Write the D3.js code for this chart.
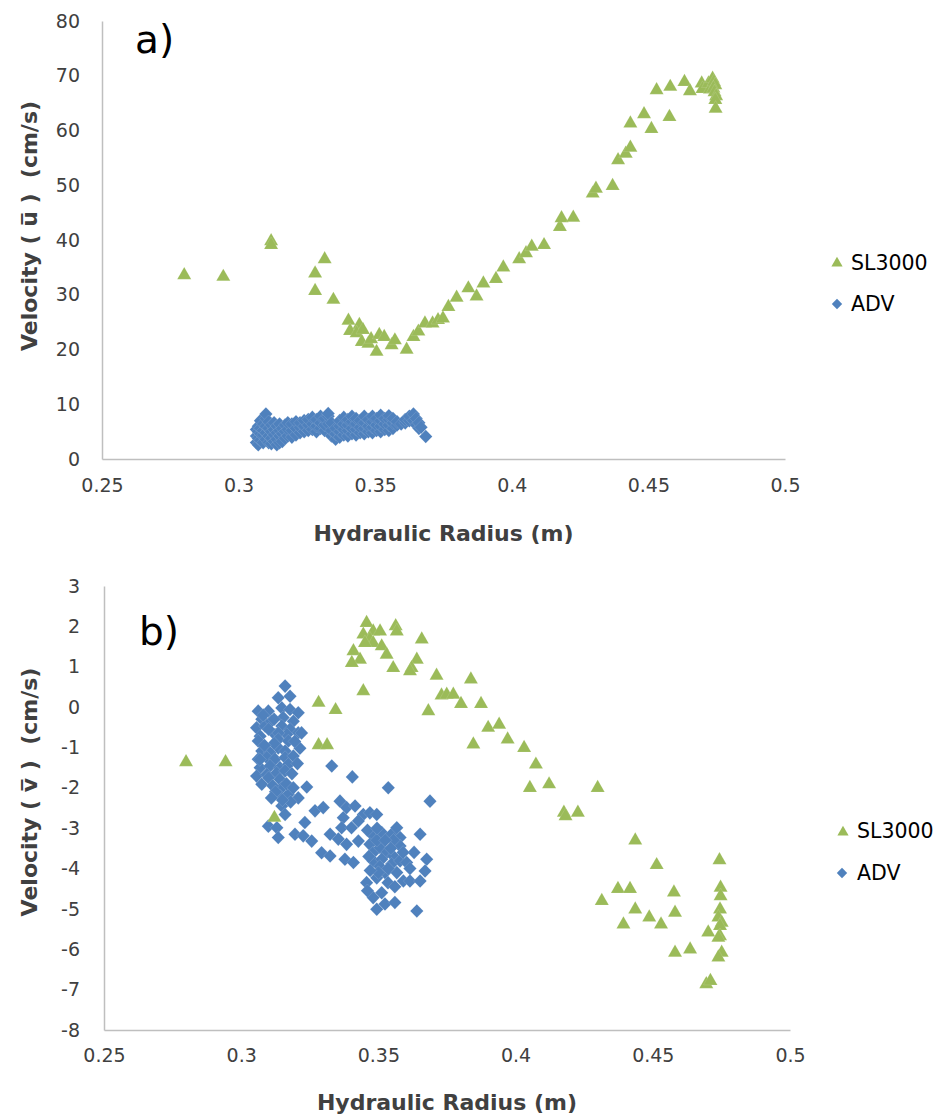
<!DOCTYPE html>
<html>
<head>
<meta charset="utf-8">
<script src="https://cdn.jsdelivr.net/npm/d3@7"></script>
<style>
  html, body { margin: 0; padding: 0; background: #ffffff; }
  svg { display: block; }
  text { font-family: "DejaVu Sans", sans-serif; }
</style>
</head>
<body>
<svg id="chart" width="942" height="1120"></svg>
<script>
// ---- Panel a): mean streamwise velocity vs hydraulic radius ----
const slU = [
  [0.2801,33.9],[0.2944,33.6],[0.3119,40.1],[0.3119,39.4],[0.3280,34.2],[0.3315,36.8],
  [0.3280,31.0],[0.3347,29.4],[0.3402,25.6],[0.3442,24.8],[0.3408,23.7],[0.3432,23.3],
  [0.3451,21.7],[0.3455,23.9],[0.3475,21.4],[0.3485,22.2],[0.3505,19.9],[0.3515,23.0],
  [0.3533,22.6],[0.3560,21.1],[0.3572,22.0],[0.3615,20.3],[0.3640,22.6],[0.3658,23.6],
  [0.3682,25.1],[0.3710,25.1],[0.3730,25.7],[0.3748,26.0],[0.3768,28.1],[0.3798,29.8],
  [0.3841,31.5],[0.3871,30.0],[0.3896,32.4],[0.3942,33.2],[0.3969,35.3],[0.4027,36.8],
  [0.4052,37.9],[0.4073,39.1],[0.4118,39.4],[0.4176,42.7],[0.4182,44.3],[0.4225,44.4],
  [0.4296,48.8],[0.4308,49.7],[0.4369,50.2],[0.4389,54.9],[0.4417,56.1],[0.4434,57.2],
  [0.4434,61.6],[0.4484,63.3],[0.4511,60.6],[0.4577,62.8],[0.4530,67.7],[0.4580,68.3],
  [0.4632,69.2],[0.4652,67.5],[0.4695,68.9],[0.4698,67.9],[0.4720,68.9],[0.4725,67.8],
  [0.4735,69.8],[0.4740,69.2],[0.4745,68.6],[0.4738,68.0],[0.4742,67.3],[0.4748,66.6],
  [0.4745,65.9],[0.4746,64.3]
];

const advU = [
  [0.3065,3.0],[0.3065,4.2],[0.3065,5.4],
  [0.3072,2.6],[0.3072,3.8],[0.3072,5.0],[0.3072,6.0],
  [0.3080,3.4],[0.3080,4.6],[0.3080,5.6],[0.3080,7.0],
  [0.3090,3.0],[0.3090,4.4],[0.3090,5.2],[0.3090,6.4],
  [0.3100,3.6],[0.3100,4.8],[0.3100,6.0],[0.3100,7.4],[0.3100,8.2],
  [0.3110,3.0],[0.3110,4.2],[0.3110,5.6],[0.3110,6.8],
  [0.3120,2.8],[0.3120,3.8],[0.3120,5.0],[0.3120,6.2],
  [0.3130,3.2],[0.3130,4.4],[0.3130,5.4],[0.3130,6.6],
  [0.3140,2.6],[0.3140,3.6],[0.3140,4.8],[0.3140,6.0],
  [0.3150,3.0],[0.3150,4.2],[0.3150,5.2],[0.3150,6.4],
  [0.3160,3.2],[0.3160,4.6],[0.3160,5.6],
  [0.3170,3.8],[0.3170,5.0],[0.3170,6.2],
  [0.3180,4.2],[0.3180,5.4],[0.3180,6.6],
  [0.3195,4.0],[0.3195,5.2],[0.3195,6.4],
  [0.3210,4.4],[0.3210,5.6],[0.3210,6.8],
  [0.3225,4.8],[0.3225,5.8],[0.3225,6.6],
  [0.3240,5.0],[0.3240,6.0],[0.3240,7.0],
  [0.3255,5.2],[0.3255,6.2],[0.3255,7.2],
  [0.3270,5.4],[0.3270,6.4],[0.3270,7.6],
  [0.3285,5.0],[0.3285,6.0],[0.3285,7.2],
  [0.3300,5.6],[0.3300,6.6],[0.3300,7.8],
  [0.3315,5.2],[0.3315,6.2],[0.3315,7.4],
  [0.3328,6.4],[0.3328,7.8],[0.3328,8.3],
  [0.3340,4.2],[0.3340,5.2],[0.3340,6.6],
  [0.3355,3.6],[0.3355,4.6],[0.3355,5.6],
  [0.3370,4.0],[0.3370,5.0],[0.3370,6.0],[0.3370,7.0],
  [0.3385,4.4],[0.3385,5.4],[0.3385,6.4],[0.3385,7.6],
  [0.3400,4.2],[0.3400,5.2],[0.3400,6.2],[0.3400,7.2],
  [0.3415,4.6],[0.3415,5.6],[0.3415,6.8],[0.3415,7.8],
  [0.3430,4.4],[0.3430,5.4],[0.3430,6.4],[0.3430,7.4],
  [0.3445,4.8],[0.3445,5.8],[0.3445,7.0],
  [0.3460,4.6],[0.3460,5.6],[0.3460,6.6],[0.3460,7.8],
  [0.3475,5.0],[0.3475,6.0],[0.3475,7.2],
  [0.3490,4.8],[0.3490,5.8],[0.3490,6.8],[0.3490,7.8],
  [0.3505,5.2],[0.3505,6.2],[0.3505,7.4],
  [0.3520,5.0],[0.3520,6.0],[0.3520,7.0],[0.3520,8.0],
  [0.3535,5.4],[0.3535,6.4],[0.3535,7.4],
  [0.3550,5.2],[0.3550,6.2],[0.3550,7.2],[0.3550,7.9],
  [0.3565,5.6],[0.3565,6.6],[0.3565,7.4],
  [0.3580,6.2],[0.3580,6.8],
  [0.3595,6.4],
  [0.3610,6.6],[0.3610,7.2],
  [0.3625,7.0],[0.3625,7.8],
  [0.3640,7.0],[0.3640,8.2],
  [0.3650,6.2],[0.3650,7.4],
  [0.3660,5.6],[0.3660,6.6],
  [0.3668,5.8],
  [0.3685,4.1]
];

// ---- Panel b): mean transverse velocity vs hydraulic radius ----
const slV = [
  [0.2799,-1.32],[0.2943,-1.32],[0.3121,-2.70],[0.3282,0.15],[0.3344,-0.03],[0.3282,-0.90],
  [0.3313,-0.90],[0.3445,0.44],[0.3457,2.13],[0.3481,1.92],[0.3506,1.92],[0.3563,2.05],
  [0.3567,1.92],[0.3658,1.72],[0.3445,1.84],[0.3469,1.72],[0.3481,1.63],[0.3451,1.63],
  [0.3512,1.55],[0.3530,1.34],[0.3409,1.43],[0.3433,1.22],[0.3403,1.14],[0.3554,1.01],
  [0.3640,1.22],[0.3621,1.01],[0.3615,0.93],[0.3712,0.82],[0.3837,0.73],[0.3730,0.33],
  [0.3749,0.35],[0.3773,0.35],[0.3801,0.12],[0.3874,0.12],[0.3682,-0.06],
  [0.3900,-0.47],[0.3940,-0.39],[0.3846,-0.88],[0.3971,-0.76],[0.4031,-0.97],[0.4074,-1.38],
  [0.4052,-1.96],[0.4122,-1.87],[0.4299,-1.96],[0.4176,-2.57],[0.4182,-2.66],[0.4227,-2.57],
  [0.4436,-3.26],[0.4514,-3.87],[0.4743,-3.75],[0.4373,-4.46],[0.4417,-4.46],[0.4314,-4.76],
  [0.4577,-4.55],[0.4747,-4.43],[0.4747,-4.64],[0.4436,-4.97],[0.4487,-5.17],[0.4530,-5.34],
  [0.4581,-5.05],[0.4393,-5.34],[0.4745,-4.97],[0.4739,-5.17],[0.4751,-5.30],[0.4745,-5.38],
  [0.4702,-5.54],[0.4745,-5.63],[0.4739,-5.67],[0.4581,-6.04],[0.4636,-5.96],[0.4751,-6.04],
  [0.4739,-6.16],[0.4695,-6.82],[0.4710,-6.74]
];

const advV = [
  [0.3160,0.52],[0.3135,0.23],[0.3178,0.27],[0.3062,-0.10],[0.3099,-0.10],[0.3148,-0.02],
  [0.3178,-0.06],[0.3208,-0.14],[0.3075,-0.30],[0.3153,-0.26],[0.3190,-0.35],[0.3056,-0.51],
  [0.3087,-0.47],[0.3148,-0.47],[0.3178,-0.55],[0.3208,-0.64],[0.3220,-0.64],[0.3069,-0.72],
  [0.3123,-0.68],[0.3166,-0.68],[0.3135,-0.64],[0.3062,-0.84],[0.3135,-0.80],[0.3172,-0.84],
  [0.3135,-1.01],[0.3160,-1.09],[0.3214,-1.02],[0.3075,-1.09],[0.3105,-1.13],[0.3062,-1.29],
  [0.3093,-1.25],[0.3123,-1.29],[0.3160,-1.25],[0.3190,-1.21],[0.3069,-1.50],[0.3105,-1.46],
  [0.3141,-1.50],[0.3172,-1.42],[0.3056,-1.71],[0.3093,-1.67],[0.3129,-1.63],[0.3160,-1.58],
  [0.3075,-1.91],[0.3141,-1.79],[0.3148,-2.00],[0.3330,-1.46],[0.3405,-1.73],[0.3239,-1.98],
  [0.3536,-2.00],[0.3141,-2.20],[0.3172,-2.16],[0.3208,-2.25],[0.3688,-2.33],[0.3148,-2.45],
  [0.3160,-2.66],[0.3269,-2.57],[0.3299,-2.49],[0.3360,-2.33],[0.3384,-2.49],[0.3415,-2.45],
  [0.3372,-2.74],[0.3445,-2.66],[0.3469,-2.62],[0.3494,-2.66],[0.3099,-2.95],[0.3130,-2.99],
  [0.3135,-3.23],[0.3232,-2.86],[0.3196,-3.15],[0.3226,-3.19],[0.3257,-3.32],[0.3324,-3.15],
  [0.3354,-3.27],[0.3384,-3.40],[0.3427,-3.32],[0.3366,-2.99],[0.3402,-2.99],[0.3427,-2.82],
  [0.3481,-3.19],[0.3512,-3.11],[0.3548,-3.15],[0.3579,-3.23],[0.3567,-2.99],[0.3652,-3.15],
  [0.3293,-3.61],[0.3324,-3.69],[0.3378,-3.77],[0.3409,-3.85],[0.3469,-3.40],[0.3481,-3.61],
  [0.3506,-3.48],[0.3530,-3.61],[0.3554,-3.69],[0.3579,-3.44],[0.3481,-3.81],[0.3512,-3.77],
  [0.3548,-3.89],[0.3579,-3.81],[0.3603,-3.85],[0.3676,-3.77],[0.3670,-4.06],[0.3457,-4.35],
  [0.3494,-4.23],[0.3524,-4.10],[0.3567,-4.10],[0.3591,-4.31],[0.3615,-4.31],[0.3652,-4.31],
  [0.3481,-4.72],[0.3512,-4.60],[0.3524,-4.88],[0.3560,-4.84],[0.3640,-5.05],[0.3494,-5.01],
  [0.3505,-3.95],[0.3536,-4.00],[0.3494,-3.30],[0.3555,-3.30],[0.3615,-4.00],[0.3630,-3.60],
  [0.3080,-0.20],[0.3110,-0.35],[0.3120,-0.90],[0.3085,-0.95],[0.3100,-1.75],[0.3115,-1.95],
  [0.3125,-2.10],[0.3165,-1.90],[0.3180,-2.35],[0.3190,-2.00],[0.3150,-2.30],[0.3120,-0.30],
  [0.3195,-0.85],[0.3185,-1.65],[0.3205,-1.40],[0.3100,-0.55],[0.3068,-1.30],[0.3110,-2.25],
  [0.3460,-3.05],[0.3495,-3.00],[0.3525,-3.30],[0.3545,-3.50],[0.3465,-3.70],[0.3500,-4.10],
  [0.3535,-4.35],[0.3470,-4.05],[0.3560,-4.45],[0.3590,-3.60],[0.3460,-4.55]
];

// ---- Axis ticks ----
const xTicks = [0.25, 0.3, 0.35, 0.4, 0.45, 0.5];
const uTicks = [0, 10, 20, 30, 40, 50, 60, 70, 80];
const vTicks = [-8, -7, -6, -5, -4, -3, -2, -1, 0, 1, 2, 3];

const seriesNames = ["SL3000", "ADV"];
const GREEN = "#9bbb59";
const BLUE = "#4f81bd";
const AXIS_GREY = "#bfbfbf";
const TEXT_GREY = "#404040";

const triPath = "M0,-6.4L7,5.8L-7,5.8Z";
const diaPath = "M0,-6.8L6.6,0L0,6.8L-6.6,0Z";
const triLegend = "M0,-5.2L5.6,4.6L-5.6,4.6Z";
const diaLegend = "M0,-5.2L5.2,0L0,5.2L-5.2,0Z";

const svg = d3.select("#chart");
svg.append("rect").attr("width", 942).attr("height", 1120).attr("fill", "#ffffff");

const panels = [
  {
    tag: "a)", tagX: 135, tagY: 53,
    xRange: [102, 785], yRange: [459, 21], yDomain: [0, 80], yTicks: uTicks,
    sl: slU, adv: advU, yLabelPad: 22, xLabelPad: 20,
    xTitleY: 541, yTitleX: 37, yTitleY: 226, sym: "u",
    legend: { tri: [837, 262], dia: [837, 304], textX: 851, slBase: 270, advBase: 311 }
  },
  {
    tag: "b)", tagX: 139, tagY: 645,
    xRange: [104, 790], yRange: [1030, 586], yDomain: [-8, 3], yTicks: vTicks,
    sl: slV, adv: advV, yLabelPad: 24, xLabelPad: 19,
    xTitleY: 1110, yTitleX: 37, yTitleY: 792, sym: "v",
    legend: { tri: [843, 831], dia: [842, 873], textX: 857, slBase: 838, advBase: 880 }
  }
];

panels.forEach(p => {
  const x = d3.scaleLinear().domain([0.25, 0.5]).range(p.xRange);
  const y = d3.scaleLinear().domain(p.yDomain).range(p.yRange);
  const g = svg.append("g");

  // axes: only the left and bottom rules, no tick marks
  const xAxis = g.append("g")
    .attr("transform", `translate(0,${p.yRange[0]})`)
    .call(d3.axisBottom(x).tickValues(xTicks).tickSize(0).tickPadding(p.xLabelPad)
      .tickFormat(d => String(+d.toFixed(2))));
  const yAxis = g.append("g")
    .attr("transform", `translate(${p.xRange[0]},0)`)
    .call(d3.axisLeft(y).tickValues(p.yTicks).tickSize(0).tickPadding(p.yLabelPad)
      .tickFormat(d => String(d)));
  [xAxis, yAxis].forEach(a => {
    a.select(".domain").attr("stroke", AXIS_GREY).attr("stroke-width", 1.5);
    a.selectAll(".tick text")
      .attr("fill", TEXT_GREY)
      .style("font-family", '"DejaVu Sans", sans-serif')
      .style("font-size", "19px");
  });

  // series markers
  g.append("g").selectAll("path").data(p.adv).join("path")
    .attr("d", diaPath)
    .attr("transform", d => `translate(${x(d[0])},${y(d[1])})`)
    .attr("fill", BLUE)
    .attr("stroke", "#ffffff").attr("stroke-width", 0.4).attr("stroke-opacity", 0.3);
  g.append("g").selectAll("path").data(p.sl).join("path")
    .attr("d", triPath)
    .attr("transform", d => `translate(${x(d[0])},${y(d[1])})`)
    .attr("fill", GREEN)
    .attr("stroke", "#ffffff").attr("stroke-width", 0.4).attr("stroke-opacity", 0.3);

  // panel tag
  g.append("text").attr("x", p.tagX).attr("y", p.tagY)
    .style("font-size", "39px").attr("fill", "#000").text(p.tag);

  // axis titles
  g.append("text")
    .attr("x", (p.xRange[0] + p.xRange[1]) / 2).attr("y", p.xTitleY)
    .attr("text-anchor", "middle")
    .style("font-size", "22px").style("font-weight", "bold")
    .attr("fill", TEXT_GREY)
    .text("Hydraulic Radius (m)");

  g.append("text")
    .attr("transform", `translate(${p.yTitleX},${p.yTitleY}) rotate(-90)`)
    .attr("text-anchor", "middle")
    .style("font-size", "22px").style("font-weight", "bold")
    .style("white-space", "pre")
    .attr("fill", TEXT_GREY)
    .text(`Velocity ( ${p.sym}\u0305 )  (cm/s)`);

  // legend
  const L = p.legend;
  g.append("path").attr("d", triLegend)
    .attr("transform", `translate(${L.tri[0]},${L.tri[1]})`).attr("fill", GREEN);
  g.append("path").attr("d", diaLegend)
    .attr("transform", `translate(${L.dia[0]},${L.dia[1]})`).attr("fill", BLUE);
  g.append("text").attr("x", L.textX).attr("y", L.slBase)
    .style("font-size", "20.5px").attr("fill", "#000").text(seriesNames[0]);
  g.append("text").attr("x", L.textX).attr("y", L.advBase)
    .style("font-size", "20.5px").attr("fill", "#000").text(seriesNames[1]);
});
</script>
</body>
</html>
